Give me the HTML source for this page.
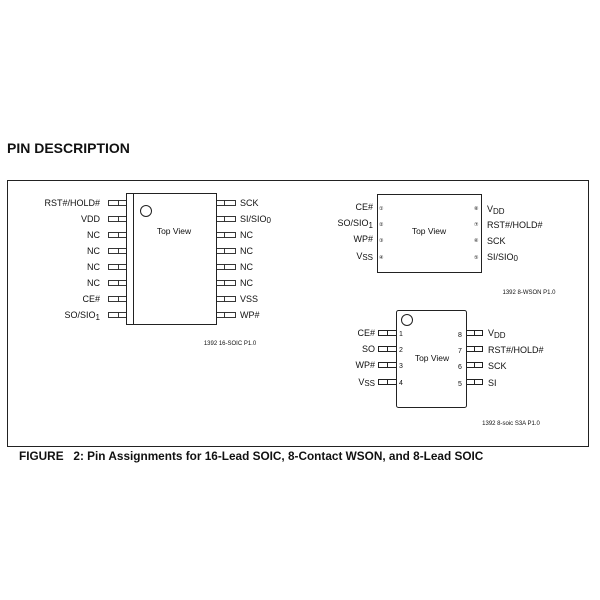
<!DOCTYPE html>
<html><head><meta charset="utf-8"><style>
html,body{margin:0;padding:0;background:#fff}
svg{display:block}
text{font-family:"Liberation Sans",Arial,sans-serif;fill:#111}
</style></head><body>
<svg width="600" height="600" viewBox="0 0 600 600" xmlns="http://www.w3.org/2000/svg">
<text x="7" y="153" font-size="14" font-weight="bold">PIN DESCRIPTION</text>
<rect x="7.5" y="180.5" width="581" height="266" fill="none" stroke="#222" stroke-width="1"/>
<text x="19" y="460" font-size="11.8" font-weight="bold" xml:space="preserve">FIGURE   2: Pin Assignments for 16-Lead SOIC, 8-Contact WSON, and 8-Lead SOIC</text>

<!-- 16 SOIC -->
<g stroke="#222" stroke-width="1" fill="none">
<rect x="126.5" y="193.5" width="90" height="131"/>
<line x1="133.5" y1="193.5" x2="133.5" y2="324.5"/>
<circle cx="146" cy="211" r="5.5"/>
</g>
<g stroke="#222" stroke-width="0.9" fill="none">
<rect x="108.5" y="200.5" width="18" height="5"/><line x1="118.5" y1="200.5" x2="118.5" y2="205.5"/>
<rect x="108.5" y="216.5" width="18" height="5"/><line x1="118.5" y1="216.5" x2="118.5" y2="221.5"/>
<rect x="108.5" y="232.5" width="18" height="5"/><line x1="118.5" y1="232.5" x2="118.5" y2="237.5"/>
<rect x="108.5" y="248.5" width="18" height="5"/><line x1="118.5" y1="248.5" x2="118.5" y2="253.5"/>
<rect x="108.5" y="264.5" width="18" height="5"/><line x1="118.5" y1="264.5" x2="118.5" y2="269.5"/>
<rect x="108.5" y="280.5" width="18" height="5"/><line x1="118.5" y1="280.5" x2="118.5" y2="285.5"/>
<rect x="108.5" y="296.5" width="18" height="5"/><line x1="118.5" y1="296.5" x2="118.5" y2="301.5"/>
<rect x="108.5" y="312.5" width="18" height="5"/><line x1="118.5" y1="312.5" x2="118.5" y2="317.5"/>
<rect x="216.5" y="200.5" width="19" height="5"/><line x1="224.5" y1="200.5" x2="224.5" y2="205.5"/>
<rect x="216.5" y="216.5" width="19" height="5"/><line x1="224.5" y1="216.5" x2="224.5" y2="221.5"/>
<rect x="216.5" y="232.5" width="19" height="5"/><line x1="224.5" y1="232.5" x2="224.5" y2="237.5"/>
<rect x="216.5" y="248.5" width="19" height="5"/><line x1="224.5" y1="248.5" x2="224.5" y2="253.5"/>
<rect x="216.5" y="264.5" width="19" height="5"/><line x1="224.5" y1="264.5" x2="224.5" y2="269.5"/>
<rect x="216.5" y="280.5" width="19" height="5"/><line x1="224.5" y1="280.5" x2="224.5" y2="285.5"/>
<rect x="216.5" y="296.5" width="19" height="5"/><line x1="224.5" y1="296.5" x2="224.5" y2="301.5"/>
<rect x="216.5" y="312.5" width="19" height="5"/><line x1="224.5" y1="312.5" x2="224.5" y2="317.5"/>
</g>
<g font-size="9" text-anchor="end">
<text x="100" y="206">RST#/HOLD#</text>
<text x="100" y="222">VDD</text>
<text x="100" y="238">NC</text>
<text x="100" y="254">NC</text>
<text x="100" y="270">NC</text>
<text x="100" y="286">NC</text>
<text x="100" y="302">CE#</text>
<text x="100" y="318">SO/SIO<tspan font-size="8" dy="2">1</tspan></text>
</g>
<g font-size="9">
<text x="240" y="206">SCK</text>
<text x="240" y="222">SI/SIO<tspan font-size="8" dy="1">0</tspan></text>
<text x="240" y="238">NC</text>
<text x="240" y="254">NC</text>
<text x="240" y="270">NC</text>
<text x="240" y="286">NC</text>
<text x="240" y="302">VSS</text>
<text x="240" y="318">WP#</text>
</g>
<text x="174" y="234" font-size="8.5" text-anchor="middle">Top View</text>
<text x="230" y="345" font-size="6" text-anchor="middle">1392 16-SOIC P1.0</text>

<!-- WSON -->
<rect x="377.5" y="194.5" width="104" height="78" fill="none" stroke="#222"/>
<g font-size="5" fill="#333">
<text x="379" y="210">①</text><text x="379" y="226">②</text><text x="379" y="242">③</text><text x="379" y="259">④</text>
<text x="474" y="210">⑧</text><text x="474" y="226">⑦</text><text x="474" y="242">⑥</text><text x="474" y="259">⑤</text>
</g>
<g font-size="9" text-anchor="end">
<text x="373" y="210">CE#</text>
<text x="373" y="226">SO/SIO<tspan font-size="8" dy="2">1</tspan></text>
<text x="373" y="242">WP#</text>
<text x="373" y="259">V<tspan font-size="8" dy="1">SS</tspan></text>
</g>
<g font-size="9">
<text x="487" y="212">V<tspan font-size="8" dy="2">DD</tspan></text>
<text x="487" y="228">RST#/HOLD#</text>
<text x="487" y="244">SCK</text>
<text x="487" y="260">SI/SIO<tspan font-size="8" dy="1">0</tspan></text>
</g>
<text x="429" y="234" font-size="8.5" text-anchor="middle">Top View</text>
<text x="529" y="294" font-size="6" text-anchor="middle">1392 8-WSON P1.0</text>

<!-- 8 SOIC -->
<g stroke="#222" stroke-width="1" fill="none">
<rect x="396.5" y="310.5" width="70" height="97" rx="2"/>
<circle cx="407" cy="320" r="5.5"/>
<rect x="378.5" y="330.5" width="18" height="5"/><line x1="387.5" y1="330.5" x2="387.5" y2="335.5"/>
<rect x="378.5" y="346.5" width="18" height="5"/><line x1="387.5" y1="346.5" x2="387.5" y2="351.5"/>
<rect x="378.5" y="362.5" width="18" height="5"/><line x1="387.5" y1="362.5" x2="387.5" y2="367.5"/>
<rect x="378.5" y="379.5" width="18" height="5"/><line x1="387.5" y1="379.5" x2="387.5" y2="384.5"/>
<rect x="466.5" y="330.5" width="16" height="5"/><line x1="474.5" y1="330.5" x2="474.5" y2="335.5"/>
<rect x="466.5" y="346.5" width="16" height="5"/><line x1="474.5" y1="346.5" x2="474.5" y2="351.5"/>
<rect x="466.5" y="362.5" width="16" height="5"/><line x1="474.5" y1="362.5" x2="474.5" y2="367.5"/>
<rect x="466.5" y="379.5" width="16" height="5"/><line x1="474.5" y1="379.5" x2="474.5" y2="384.5"/>
</g>
<g font-size="7">
<text x="399" y="336">1</text><text x="399" y="352">2</text><text x="399" y="368">3</text><text x="399" y="385">4</text>
<text x="458" y="337">8</text><text x="458" y="353">7</text><text x="458" y="369">6</text><text x="458" y="386">5</text>
</g>
<g font-size="9" text-anchor="end">
<text x="375" y="336">CE#</text>
<text x="375" y="352">SO</text>
<text x="375" y="368">WP#</text>
<text x="375" y="385">V<tspan font-size="8" dy="1">SS</tspan></text>
</g>
<g font-size="9">
<text x="488" y="336">V<tspan font-size="8" dy="2">DD</tspan></text>
<text x="488" y="353">RST#/HOLD#</text>
<text x="488" y="369">SCK</text>
<text x="488" y="386">SI</text>
</g>
<text x="432" y="361" font-size="8.5" text-anchor="middle">Top View</text>
<text x="511" y="425" font-size="6" text-anchor="middle">1392 8-soic S3A P1.0</text>
</svg>
</body></html>
